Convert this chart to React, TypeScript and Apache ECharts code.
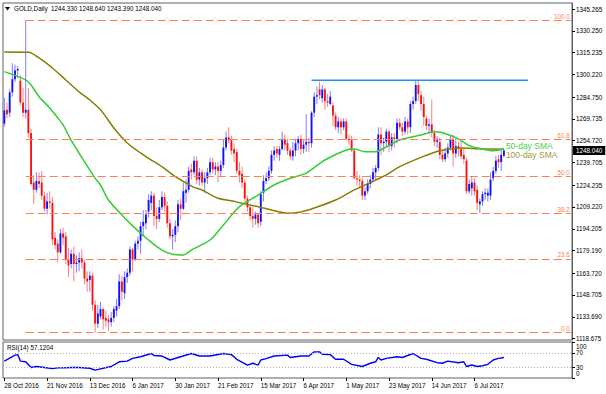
import React, { useEffect, useRef } from 'react';
import * as echarts from 'echarts';

const FONT = '"Liberation Sans", Arial, sans-serif';

// OHLC, one entry per daily bar from 28 Oct 2016 to 21 Jul 2017
const OPEN = [1266.5,1276,1274,1288,1297,1303,1296,1281,1274,1276,1260,1226,1221,1227,1226,1217,1208,1213,1212,1188,1184,1178,1191,1189,1173,1170,1177,1170,1171,1174,1171,1160,1159,1162,1142,1129,1134,1139,1133,1132,1130,1133,1138,1141,1158,1150,1161,1164,1180,1173,1184,1186,1196,1198,1206,1212,1217,1203,1201,1209,1216,1210,1198,1189,1190,1196,1211,1208,1219,1221,1235,1233,1241,1228,1233,1226,1229,1233,1240,1235,1237,1234,1238,1250,1257,1255,1249,1247,1234,1232,1226,1215,1209,1203,1201,1204,1199,1219,1227,1229,1234,1245,1249,1245,1249,1256,1253,1248,1244,1248,1253,1256,1249,1252,1254,1253,1274,1285,1290,1284,1290,1282,1280,1279,1272,1264,1268,1264,1268,1256,1255,1248,1229,1228,1227,1217,1220,1225,1228,1233,1236,1259,1253,1254,1261,1251,1257,1256,1267,1264,1261,1268,1264,1280,1282,1293,1286,1280,1270,1265,1266,1260,1254,1254,1245,1242,1246,1250,1256,1246,1251,1249,1245,1241,1220,1222,1226,1221,1211,1213,1218,1217,1217,1229,1234,1242,1240,1244.33];
const HIGH = [1284.3,1281,1290,1308,1307,1306,1300,1291,1337.4,1291,1263,1231,1233,1233,1234,1220,1219,1220,1216,1192,1187,1194,1195,1192,1181,1180,1182,1176,1178,1180,1173,1165,1165,1164,1145,1142,1144,1140,1138,1135,1137,1141,1146,1163,1162,1165,1167,1182,1181,1186,1189,1199,1207,1207,1218,1220,1219,1209,1214,1220,1219,1213,1201,1194,1200,1214,1215,1226,1228,1237,1239,1244,1244,1236,1235,1233,1236,1243,1243,1240,1240,1241,1256,1261,1264,1258,1253,1249,1240,1237,1228,1217,1210,1209,1206,1205,1220,1231,1233,1237,1248,1251,1251,1251,1261,1259,1256,1250,1254,1256,1258,1259,1255,1273,1257,1275,1288,1292,1295.4,1293,1291,1287,1289,1281,1274,1271,1270,1270,1270,1259,1258,1249,1234,1231,1229,1223,1228,1231,1236,1238,1264,1264,1257,1263,1262,1260,1260,1270,1270,1267,1271,1270,1282,1285,1296,1296,1289,1285,1272,1270,1283,1262,1258,1257,1248,1250,1253,1258,1259,1256,1254,1256,1250,1243,1228,1230,1229,1224,1215,1220,1222,1222,1233,1237,1244,1245,1249,1248.64];
const LOW = [1264.5,1270,1271,1285,1295,1298,1279,1271,1270,1257,1224,1211,1219,1222,1214,1206,1204,1208,1183,1180,1171,1177,1183,1170,1161,1167,1158,1164,1165,1167,1156,1151,1151,1138,1122.9,1126,1132,1125,1127,1124,1127,1130,1134,1139,1145,1146,1157,1162,1165,1172,1180,1177,1189,1194,1202,1207,1196,1194,1199,1207,1206,1195,1187,1180,1185,1192,1200,1207,1212,1219,1228,1231,1225,1224,1224,1219,1225,1231,1232,1231,1226,1230,1236,1248,1253,1245,1240,1232,1226,1222,1213,1206,1200,1195,1197,1195,1196,1213,1225,1227,1232,1241,1243,1241,1248,1248,1245,1242,1241,1244,1248,1245,1246,1247,1247,1250,1271,1280,1283,1281,1276,1278,1279,1265,1262,1260,1259,1262,1255,1252,1247,1228,1224,1222,1214,1214,1218,1222,1226,1228,1234,1245,1247,1251,1247,1248,1250,1253,1262,1258,1259,1259,1260,1276,1280,1282,1275,1265,1262,1259,1257,1251,1250,1242,1240,1240,1243,1248,1237,1243,1244,1242,1239,1218,1218,1217,1217,1207,1205,1210,1214,1213,1214,1227,1232,1236,1234,1243.39];
const CLOSE = [1275.5,1273,1288,1297,1303,1304,1281,1274,1276,1260,1225,1221,1227,1225,1217,1208,1213,1212,1187,1183,1178,1191,1188,1173,1169,1177,1170,1171,1174,1171,1160,1158,1162,1142,1129,1136,1139,1132,1131,1130,1133,1139,1141,1158,1151,1161,1164,1180,1173,1184,1186,1196,1199,1204,1214,1217,1203,1201,1209,1216,1210,1198,1189,1190,1196,1211,1208,1220,1221,1234,1233,1241,1228,1233,1226,1229,1233,1240,1235,1237,1234,1238,1250,1257,1255,1248,1246,1234,1231,1226,1215,1209,1203,1201,1204,1198,1218,1227,1229,1234,1245,1248,1246,1249,1256,1252,1248,1244,1248,1253,1256,1249,1252,1254,1253,1274,1285,1286,1286,1290,1282,1281,1285,1272,1264,1268,1264,1268,1256,1255,1248,1229,1228,1227,1217,1220,1225,1228,1233,1236,1259,1253,1254,1261,1251,1257,1256,1267,1264,1261,1268,1264,1280,1282,1293,1287,1280,1271,1265,1266,1260,1254,1255,1245,1242,1246,1250,1256,1246,1251,1249,1244,1242,1220,1225,1226,1220,1212,1213,1218,1219,1219,1228,1234,1241,1240,1245,1248.04];

// Moving averages read at sampled bars: [bar index, value]
const SMA50_IDX = [0,8,10,13,17,20,22,25,30,34,36,39,44,49,54,59,63,67,70,77,82,88,95,101,107,113,120,128,131,135,139,143,148,156,161,164,170,174,178,183,187];
const SMA50_VAL = [1302.2,1296.5,1293.0,1285.0,1277.2,1270.4,1265.6,1255.2,1240.3,1228.9,1224.3,1214.0,1203.7,1194.5,1186.5,1179.6,1176.7,1176.2,1179.6,1186.5,1196.8,1209.4,1217.4,1224.3,1228.9,1232.5,1241.5,1248.4,1249.0,1247.2,1247.2,1250.6,1255.2,1258.7,1260.9,1260.2,1256.0,1251.4,1249.4,1247.9,1249.0];
const SMA100_IDX = [0,9,13,18,23,28,32,36,38,41,46,53,59,64,68,71,74,80,85,89,95,100,106,111,116,124,131,139,143,148,156,163,171,178,187];
const SMA100_VAL = [1315.7,1315.5,1311.6,1304.7,1296.5,1288.3,1282.7,1276.0,1271.2,1263.5,1253.2,1243.8,1236.9,1230.0,1225.7,1222.7,1220.9,1215.2,1213.5,1211.7,1209.4,1207.1,1204.9,1205.8,1208.5,1214.0,1220.9,1227.7,1231.2,1236.9,1243.3,1247.9,1249.7,1249.2,1248.8];

// RSI(14) read at sampled bars
const RSI_IDX = [0,4,5,6,8,10,12,15,18,20,22,25,28,32,34,36,40,43,46,48,51,55,56,59,62,66,70,73,77,82,85,87,91,93,95,96,98,101,106,107,111,114,116,118,119,122,124,127,130,134,137,139,140,141,143,147,149,153,156,158,162,164,166,170,172,173,175,177,179,181,183,185,187];
const RSI_VAL = [47,63.5,65,47,45,29,32,29,26,28,28,29,29,27,22,25.5,32,45,47,54.5,59,68,62.7,61,50,59,68,61,61,68,65,52,36,41,36,50,54,61,63.5,57,61,61,72.5,72.5,66,65,52,52,38,32,41,45,57,50,54.5,59,57,68,54.5,52,42.5,41,47,42.5,45,32,36,32,34,38,50,54.5,57.1];

// Tick labels
const PRICE_TICKS = [1345.265,1330.25,1315.235,1300.22,1284.75,1269.735,1254.72,1239.705,1224.235,1209.22,1194.205,1179.19,1163.72,1148.705,1133.69,1118.675];
const RSI_TICKS = [0,30,70,100];
const RSI_LEVELS = [70,30];

// Fibonacci retracement (swing high 9 Nov 2016, swing low 15 Dec 2016)
const FIB_HIGH = 1337.4;
const FIB_LOW = 1122.9;
const FIB_START = 8;
const FIB_LEVELS = [100, 61.8, 50, 38.2, 23.6, 0];

const RESIST_VALUE = 1296.3;
const RESIST_FROM = 115;
const RESIST_TO = 196;

const LAST_PRICE = 1248.04;
const HEADER = 'GOLD,Daily  1244.330 1248.640 1243.390 1248.040';
const RSI_TEXT = 'RSI(14) 57.1204';

const TOTAL_BARS = 213;
const HOLIDAYS = ['2016-12-26', '2017-01-02', '2017-04-14'];
const MONTHS = ['Jan','Feb','Mar','Apr','May','Jun','Jul','Aug','Sep','Oct','Nov','Dec'];
const LABEL_EVERY = 16;
const LAST_LABEL = 176;

function tradingDays(n: number): string[] {
  const out: string[] = [];
  const d = new Date(Date.UTC(2016, 9, 28));
  while (out.length < n) {
    const wd = d.getUTCDay();
    const iso = d.toISOString().slice(0, 10);
    if (wd !== 0 && wd !== 6 && !HOLIDAYS.includes(iso)) {
      out.push(`${d.getUTCDate()} ${MONTHS[d.getUTCMonth()]} ${d.getUTCFullYear()}`);
    }
    d.setUTCDate(d.getUTCDate() + 1);
  }
  return out;
}

const zip = (a: number[], b: number[]) => a.map((v, i) => [v, b[i]]);

export default function App() {
  const ref = useRef<HTMLDivElement>(null);
  useEffect(() => {
    document.body.style.margin = '0';
    if (!ref.current) return;
    const chart = echarts.init(ref.current, null, { renderer: 'svg' });
    const cats = tradingDays(TOTAL_BARS);
    const showLabel = (i: number) => i % LABEL_EVERY === 0 && i <= LAST_LABEL;
    const fibColor = '#FF7F50';
    const fibLines = FIB_LEVELS.map((lv) => {
      const p = FIB_LOW + (FIB_HIGH - FIB_LOW) * lv / 100;
      return [
        {
          coord: [FIB_START, p],
          label: { show: true, position: 'insideEndTop', formatter: lv.toFixed(1), color: fibColor, fontSize: 6.3, distance: 1 },
          lineStyle: { color: fibColor, type: [8, 4], width: 1.2 },
        },
        { coord: [TOTAL_BARS - 1, p] },
      ];
    });

    const option: any = {
      animation: false,
      backgroundColor: '#fff',
      textStyle: { fontFamily: FONT },
      grid: [
        { left: 3, right: 34, top: 3, height: 337, show: true, borderColor: '#606060', borderWidth: 1, backgroundColor: 'transparent' },
        { left: 3, right: 34, top: 342, height: 36, show: true, borderColor: '#606060', borderWidth: 1, backgroundColor: 'transparent' },
      ],
      xAxis: [
        { type: 'category', gridIndex: 0, data: cats, boundaryGap: true, axisLine: { show: false }, axisTick: { show: false }, axisLabel: { show: false }, splitLine: { show: false } },
        {
          type: 'category', gridIndex: 1, data: cats, boundaryGap: true,
          axisLine: { show: false },
          axisTick: { show: true, interval: (i: number) => showLabel(i), alignWithLabel: true, length: 3, lineStyle: { color: '#000' } },
          axisLabel: { interval: (i: number) => showLabel(i), align: 'left', fontSize: 6.3, color: '#000', margin: 4, fontFamily: FONT },
          splitLine: { show: false },
        },
      ],
      yAxis: [
        {
          type: 'value', gridIndex: 0, position: 'right', min: 1117.77, max: 1349.39,
          axisLine: { show: true, lineStyle: { color: '#606060' } },
          axisTick: { show: true, customValues: PRICE_TICKS, length: 3, lineStyle: { color: '#000' } },
          axisLabel: { customValues: PRICE_TICKS, formatter: (v: number) => v.toFixed(3), fontSize: 6.3, color: '#000', margin: 4, fontFamily: FONT },
          splitLine: { show: false },
        },
        {
          type: 'value', gridIndex: 1, position: 'right', min: 0, max: 100,
          axisLine: { show: true, lineStyle: { color: '#606060' } },
          axisTick: { show: true, customValues: RSI_TICKS, length: 3, lineStyle: { color: '#000' } },
          axisLabel: {
            customValues: RSI_TICKS, fontSize: 6.3, color: '#000', margin: 4, fontFamily: FONT,
            formatter: (v: number) => (v === 100 ? '{t|100}' : v === 0 ? '{b|0}' : String(v)),
            rich: {
              t: { fontSize: 6.3, padding: [8, 0, 0, 0], fontFamily: FONT, color: '#000' },
              b: { fontSize: 6.3, padding: [0, 0, 10, 0], fontFamily: FONT, color: '#000' },
            },
          },
          splitLine: { show: false },
        },
      ],
      graphic: [
        { type: 'polygon', shape: { points: [[5, 7], [10, 7], [7.5, 10.5]] }, style: { fill: '#000' } },
        { type: 'text', left: 14, top: 5, style: { text: HEADER, fontSize: 6.3, fill: '#000', fontFamily: FONT } },
        { type: 'text', left: 7, top: 344, style: { text: RSI_TEXT, fontSize: 6.3, fill: '#000', fontFamily: FONT } },
      ],
      series: [
        {
          name: 'resistance', type: 'line', xAxisIndex: 0, yAxisIndex: 0,
          data: [[RESIST_FROM, RESIST_VALUE], [RESIST_TO, RESIST_VALUE]],
          symbol: 'none', lineStyle: { color: '#1E90FF', width: 1.5 }, silent: true,
          markLine: {
            silent: true, symbol: 'none',
            data: fibLines,
          },
        },
        {
          name: 'last', type: 'line', xAxisIndex: 0, yAxisIndex: 0,
          data: [], symbol: 'none', silent: true,
          markLine: {
            silent: true, symbol: 'none',
            lineStyle: { color: 'rgba(255,255,255,0)', width: 1, type: 'solid' },
            label: { show: true, position: 'end', formatter: LAST_PRICE.toFixed(3), backgroundColor: '#000', color: '#fff', fontSize: 6.3, padding: [2, 3, 1, 3], distance: 1, fontFamily: FONT },
            data: [{ yAxis: LAST_PRICE }],
          },
        },
        {
          name: 'candles', type: 'custom', xAxisIndex: 0, yAxisIndex: 0,
          data: OPEN.map((o, i) => [i, o, HIGH[i], LOW[i], CLOSE[i]]),
          encode: { x: 0, y: [1, 2, 3, 4] },
          renderItem: (params: any, api: any) => {
            const i = api.value(0);
            const o = api.value(1), h = api.value(2), l = api.value(3), c = api.value(4);
            const po = api.coord([i, o]);
            const pc = api.coord([i, c]);
            const ph = api.coord([i, h]);
            const pl = api.coord([i, l]);
            const bw = api.size([1, 0])[0];
            const w = Math.max(1.6, bw * 0.7);
            const bull = c >= o;
            const body = bull ? '#1010FF' : '#FF1010';
            const wick = bull ? '#7F7FFF' : '#FF8080';
            return {
              type: 'group',
              children: [
                { type: 'line', shape: { x1: ph[0], y1: ph[1], x2: pl[0], y2: pl[1] }, style: { stroke: wick, lineWidth: 1 } },
                { type: 'rect', shape: { x: po[0] - w / 2, y: Math.min(po[1], pc[1]), width: w, height: Math.max(1, Math.abs(po[1] - pc[1])) }, style: { fill: body } },
              ],
            };
          },
          silent: true,
        },
        {
          name: '100-day SMA', type: 'line', xAxisIndex: 0, yAxisIndex: 0,
          data: zip(SMA100_IDX, SMA100_VAL), symbol: 'none', smooth: 0.3,
          lineStyle: { color: '#857E00', width: 1.5 }, silent: true,
          endLabel: { show: true, formatter: '100-day SMA', color: '#A09C40', fontSize: 8.5, distance: 2, offset: [0, 6], fontFamily: FONT },
        },
        {
          name: '50-day SMA', type: 'line', xAxisIndex: 0, yAxisIndex: 0,
          data: zip(SMA50_IDX, SMA50_VAL), symbol: 'none', smooth: 0.3,
          lineStyle: { color: '#32CD32', width: 1.5 }, silent: true,
          endLabel: { show: true, formatter: '50-day SMA', color: '#4CD04C', fontSize: 8.5, distance: 2, offset: [0, -3], fontFamily: FONT },
        },
        {
          name: 'RSI', type: 'line', xAxisIndex: 1, yAxisIndex: 1,
          data: zip(RSI_IDX, RSI_VAL), symbol: 'none',
          lineStyle: { color: '#0000FF', width: 1.4 }, silent: true,
          markLine: {
            silent: true, symbol: 'none', label: { show: false },
            lineStyle: { color: '#B0B0B0', type: [1, 2], width: 1 },
            data: RSI_LEVELS.map((v) => ({ yAxis: v })),
          },
        },
      ],
    };
    chart.setOption(option);
    return () => chart.dispose();
  }, []);
  return <div ref={ref} style={{ width: 606, height: 394 }} />;
}
